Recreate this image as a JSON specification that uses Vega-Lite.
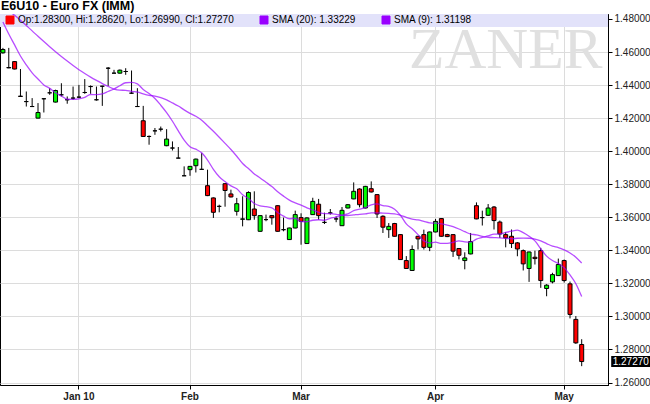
{
"$schema": "https://vega.github.io/schema/vega-lite/v6.json",
"width": 608, "height": 371,
"autosize": {"type": "none"},
"padding": {"left": 0, "top": 14, "right": 42, "bottom": 19},
"background": "#ffffff",
"title": {"text": "E6U10 - Euro FX (IMM)", "anchor": "start", "frame": "group", "font": "Liberation Sans", "fontSize": 12.5, "fontWeight": "bold", "color": "#000", "offset": 1, "dx": 1},
"config": {"view": {"stroke": "#000", "strokeWidth": 1}, "font": "Liberation Sans"},
"data": {"values": [
{"d":"2009-12-14","o":1.4595,"h":1.4625,"l":1.4590,"c":1.4615,"s20":1.4875,"s9":1.4782},
{"d":"2009-12-15","o":1.4506,"h":1.4625,"l":1.4502,"c":1.4504,"s20":1.4850,"s9":1.4709},
{"d":"2009-12-16","o":1.4542,"h":1.4545,"l":1.4495,"c":1.4497,"s20":1.4822,"s9":1.4643},
{"d":"2009-12-17","o":1.4333,"h":1.4497,"l":1.4329,"c":1.4331,"s20":1.4792,"s9":1.4576},
{"d":"2009-12-18","o":1.4300,"h":1.4361,"l":1.4270,"c":1.4300,"s20":1.4760,"s9":1.4522},
{"d":"2009-12-21","o":1.4270,"h":1.4321,"l":1.4267,"c":1.4270,"s20":1.4728,"s9":1.4474},
{"d":"2009-12-22","o":1.4200,"h":1.4291,"l":1.4198,"c":1.4234,"s20":1.4695,"s9":1.4437},
{"d":"2009-12-23","o":1.4317,"h":1.4321,"l":1.4234,"c":1.4317,"s20":1.4663,"s9":1.4401},
{"d":"2009-12-24","o":1.4353,"h":1.4381,"l":1.4341,"c":1.4353,"s20":1.4632,"s9":1.4380},
{"d":"2009-12-28","o":1.4297,"h":1.4372,"l":1.4295,"c":1.4367,"s20":1.4602,"s9":1.4353},
{"d":"2009-12-29","o":1.4341,"h":1.4411,"l":1.4331,"c":1.4341,"s20":1.4573,"s9":1.4334},
{"d":"2009-12-30","o":1.4311,"h":1.4331,"l":1.4287,"c":1.4311,"s20":1.4545,"s9":1.4314},
{"d":"2009-12-31","o":1.4321,"h":1.4391,"l":1.4311,"c":1.4321,"s20":1.4518,"s9":1.4313},
{"d":"2010-01-04","o":1.4327,"h":1.4401,"l":1.4321,"c":1.4327,"s20":1.4493,"s9":1.4316},
{"d":"2010-01-05","o":1.4355,"h":1.4436,"l":1.4347,"c":1.4355,"s20":1.4470,"s9":1.4325},
{"d":"2010-01-06","o":1.4391,"h":1.4398,"l":1.4347,"c":1.4391,"s20":1.4448,"s9":1.4343},
{"d":"2010-01-07","o":1.4311,"h":1.4391,"l":1.4306,"c":1.4311,"s20":1.4428,"s9":1.4342},
{"d":"2010-01-08","o":1.4393,"h":1.4395,"l":1.4274,"c":1.4393,"s20":1.4409,"s9":1.4346},
{"d":"2010-01-11","o":1.4502,"h":1.4509,"l":1.4395,"c":1.4502,"s20":1.4392,"s9":1.4361},
{"d":"2010-01-12","o":1.4472,"h":1.4492,"l":1.4472,"c":1.4472,"s20":1.4376,"s9":1.4376},
{"d":"2010-01-13","o":1.4472,"h":1.4494,"l":1.4470,"c":1.4490,"s20":1.4369,"s9":1.4396},
{"d":"2010-01-14","o":1.4482,"h":1.4502,"l":1.4462,"c":1.4482,"s20":1.4368,"s9":1.4414},
{"d":"2010-01-15","o":1.4351,"h":1.4488,"l":1.4347,"c":1.4351,"s20":1.4361,"s9":1.4416},
{"d":"2010-01-19","o":1.4270,"h":1.4381,"l":1.4270,"c":1.4270,"s20":1.4358,"s9":1.4407},
{"d":"2010-01-20","o":1.4184,"h":1.4274,"l":1.4087,"c":1.4089,"s20":1.4347,"s9":1.4373},
{"d":"2010-01-21","o":1.4089,"h":1.4095,"l":1.4039,"c":1.4089,"s20":1.4338,"s9":1.4349},
{"d":"2010-01-22","o":1.4123,"h":1.4140,"l":1.4099,"c":1.4123,"s20":1.4333,"s9":1.4319},
{"d":"2010-01-25","o":1.4133,"h":1.4149,"l":1.4119,"c":1.4133,"s20":1.4324,"s9":1.4278},
{"d":"2010-01-26","o":1.4033,"h":1.4133,"l":1.4030,"c":1.4073,"s20":1.4310,"s9":1.4233},
{"d":"2010-01-27","o":1.4019,"h":1.4059,"l":1.4004,"c":1.4019,"s20":1.4292,"s9":1.4181},
{"d":"2010-01-28","o":1.3958,"h":1.4025,"l":1.3958,"c":1.3958,"s20":1.4273,"s9":1.4123},
{"d":"2010-01-29","o":1.3851,"h":1.3908,"l":1.3851,"c":1.3851,"s20":1.4250,"s9":1.4067},
{"d":"2010-02-01","o":1.3888,"h":1.3910,"l":1.3851,"c":1.3908,"s20":1.4229,"s9":1.4027},
{"d":"2010-02-02","o":1.3912,"h":1.3955,"l":1.3871,"c":1.3952,"s20":1.4211,"s9":1.4012},
{"d":"2010-02-03","o":1.3890,"h":1.3988,"l":1.3888,"c":1.3890,"s20":1.4187,"s9":1.3990},
{"d":"2010-02-04","o":1.3791,"h":1.3888,"l":1.3728,"c":1.3731,"s20":1.4154,"s9":1.3946},
{"d":"2010-02-05","o":1.3717,"h":1.3720,"l":1.3596,"c":1.3630,"s20":1.4120,"s9":1.3890},
{"d":"2010-02-08","o":1.3666,"h":1.3676,"l":1.3630,"c":1.3666,"s20":1.4084,"s9":1.3845},
{"d":"2010-02-09","o":1.3803,"h":1.3805,"l":1.3664,"c":1.3762,"s20":1.4047,"s9":1.3816},
{"d":"2010-02-10","o":1.3741,"h":1.3767,"l":1.3720,"c":1.3723,"s20":1.4010,"s9":1.3790},
{"d":"2010-02-11","o":1.3636,"h":1.3717,"l":1.3610,"c":1.3682,"s20":1.3969,"s9":1.3772},
{"d":"2010-02-12","o":1.3588,"h":1.3727,"l":1.3545,"c":1.3590,"s20":1.3925,"s9":1.3736},
{"d":"2010-02-16","o":1.3585,"h":1.3757,"l":1.3583,"c":1.3750,"s20":1.3895,"s9":1.3714},
{"d":"2010-02-17","o":1.3650,"h":1.3757,"l":1.3585,"c":1.3610,"s20":1.3862,"s9":1.3683},
{"d":"2010-02-18","o":1.3515,"h":1.3612,"l":1.3513,"c":1.3610,"s20":1.3838,"s9":1.3669},
{"d":"2010-02-19","o":1.3586,"h":1.3616,"l":1.3576,"c":1.3586,"s20":1.3812,"s9":1.3664},
{"d":"2010-02-22","o":1.3610,"h":1.3612,"l":1.3555,"c":1.3597,"s20":1.3786,"s9":1.3657},
{"d":"2010-02-23","o":1.3670,"h":1.3672,"l":1.3513,"c":1.3515,"s20":1.3755,"s9":1.3629},
{"d":"2010-02-24","o":1.3525,"h":1.3598,"l":1.3515,"c":1.3525,"s20":1.3728,"s9":1.3607},
{"d":"2010-02-25","o":1.3465,"h":1.3537,"l":1.3463,"c":1.3535,"s20":1.3704,"s9":1.3591},
{"d":"2010-02-26","o":1.3535,"h":1.3640,"l":1.3533,"c":1.3616,"s20":1.3687,"s9":1.3594},
{"d":"2010-03-01","o":1.3598,"h":1.3624,"l":1.3434,"c":1.3575,"s20":1.3673,"s9":1.3574},
{"d":"2010-03-02","o":1.3441,"h":1.3600,"l":1.3439,"c":1.3596,"s20":1.3657,"s9":1.3573},
{"d":"2010-03-03","o":1.3616,"h":1.3718,"l":1.3614,"c":1.3696,"s20":1.3644,"s9":1.3582},
{"d":"2010-03-04","o":1.3679,"h":1.3711,"l":1.3585,"c":1.3610,"s20":1.3630,"s9":1.3585},
{"d":"2010-03-05","o":1.3569,"h":1.3628,"l":1.3559,"c":1.3569,"s20":1.3622,"s9":1.3582},
{"d":"2010-03-08","o":1.3626,"h":1.3650,"l":1.3616,"c":1.3626,"s20":1.3622,"s9":1.3594},
{"d":"2010-03-09","o":1.3590,"h":1.3606,"l":1.3570,"c":1.3590,"s20":1.3618,"s9":1.3601},
{"d":"2010-03-10","o":1.3549,"h":1.3662,"l":1.3547,"c":1.3642,"s20":1.3612,"s9":1.3613},
{"d":"2010-03-11","o":1.3656,"h":1.3680,"l":1.3654,"c":1.3676,"s20":1.3610,"s9":1.3620},
{"d":"2010-03-12","o":1.3711,"h":1.3811,"l":1.3709,"c":1.3757,"s20":1.3614,"s9":1.3640},
{"d":"2010-03-15","o":1.3771,"h":1.3775,"l":1.3660,"c":1.3676,"s20":1.3618,"s9":1.3649},
{"d":"2010-03-16","o":1.3656,"h":1.3790,"l":1.3654,"c":1.3787,"s20":1.3620,"s9":1.3659},
{"d":"2010-03-17","o":1.3773,"h":1.3817,"l":1.3750,"c":1.3753,"s20":1.3627,"s9":1.3675},
{"d":"2010-03-18","o":1.3737,"h":1.3740,"l":1.3596,"c":1.3620,"s20":1.3627,"s9":1.3681},
{"d":"2010-03-19","o":1.3606,"h":1.3612,"l":1.3505,"c":1.3540,"s20":1.3625,"s9":1.3671},
{"d":"2010-03-22","o":1.3525,"h":1.3565,"l":1.3475,"c":1.3545,"s20":1.3623,"s9":1.3666},
{"d":"2010-03-23","o":1.3562,"h":1.3566,"l":1.3483,"c":1.3485,"s20":1.3621,"s9":1.3649},
{"d":"2010-03-24","o":1.3495,"h":1.3497,"l":1.3342,"c":1.3344,"s20":1.3612,"s9":1.3612},
{"d":"2010-03-25","o":1.3338,"h":1.3365,"l":1.3288,"c":1.3290,"s20":1.3600,"s9":1.3560},
{"d":"2010-03-26","o":1.3278,"h":1.3430,"l":1.3276,"c":1.3405,"s20":1.3589,"s9":1.3530},
{"d":"2010-03-29","o":1.3485,"h":1.3487,"l":1.3405,"c":1.3469,"s20":1.3584,"s9":1.3495},
{"d":"2010-03-30","o":1.3495,"h":1.3525,"l":1.3405,"c":1.3418,"s20":1.3575,"s9":1.3457},
{"d":"2010-03-31","o":1.3418,"h":1.3513,"l":1.3395,"c":1.3511,"s20":1.3566,"s9":1.3445},
{"d":"2010-04-01","o":1.3511,"h":1.3590,"l":1.3509,"c":1.3575,"s20":1.3564,"s9":1.3449},
{"d":"2010-04-02","o":1.3592,"h":1.3595,"l":1.3483,"c":1.3485,"s20":1.3560,"s9":1.3442},
{"d":"2010-04-05","o":1.3495,"h":1.3500,"l":1.3480,"c":1.3483,"s20":1.3553,"s9":1.3442},
{"d":"2010-04-06","o":1.3495,"h":1.3497,"l":1.3360,"c":1.3395,"s20":1.3543,"s9":1.3448},
{"d":"2010-04-07","o":1.3411,"h":1.3413,"l":1.3345,"c":1.3370,"s20":1.3529,"s9":1.3457},
{"d":"2010-04-08","o":1.3338,"h":1.3388,"l":1.3285,"c":1.3354,"s20":1.3513,"s9":1.3451},
{"d":"2010-04-09","o":1.3378,"h":1.3505,"l":1.3376,"c":1.3453,"s20":1.3498,"s9":1.3449},
{"d":"2010-04-12","o":1.3670,"h":1.3690,"l":1.3588,"c":1.3590,"s20":1.3494,"s9":1.3468},
{"d":"2010-04-13","o":1.3598,"h":1.3640,"l":1.3550,"c":1.3598,"s20":1.3484,"s9":1.3478},
{"d":"2010-04-14","o":1.3612,"h":1.3680,"l":1.3608,"c":1.3656,"s20":1.3479,"s9":1.3487},
{"d":"2010-04-15","o":1.3662,"h":1.3668,"l":1.3526,"c":1.3580,"s20":1.3477,"s9":1.3498},
{"d":"2010-04-16","o":1.3571,"h":1.3580,"l":1.3475,"c":1.3499,"s20":1.3475,"s9":1.3499},
{"d":"2010-04-19","o":1.3495,"h":1.3510,"l":1.3418,"c":1.3475,"s20":1.3472,"s9":1.3508},
{"d":"2010-04-20","o":1.3485,"h":1.3526,"l":1.3414,"c":1.3441,"s20":1.3470,"s9":1.3516},
{"d":"2010-04-21","o":1.3445,"h":1.3450,"l":1.3364,"c":1.3408,"s20":1.3473,"s9":1.3522},
{"d":"2010-04-22","o":1.3398,"h":1.3405,"l":1.3278,"c":1.3318,"s20":1.3474,"s9":1.3507},
{"d":"2010-04-23","o":1.3290,"h":1.3392,"l":1.3209,"c":1.3390,"s20":1.3473,"s9":1.3485},
{"d":"2010-04-26","o":1.3358,"h":1.3398,"l":1.3314,"c":1.3350,"s20":1.3468,"s9":1.3457},
{"d":"2010-04-27","o":1.3398,"h":1.3415,"l":1.3173,"c":1.3217,"s20":1.3457,"s9":1.3409},
{"d":"2010-04-28","o":1.3169,"h":1.3195,"l":1.3122,"c":1.3189,"s20":1.3441,"s9":1.3365},
{"d":"2010-04-29","o":1.3209,"h":1.3264,"l":1.3200,"c":1.3253,"s20":1.3425,"s9":1.3338},
{"d":"2010-04-30","o":1.3247,"h":1.3350,"l":1.3245,"c":1.3314,"s20":1.3417,"s9":1.3320},
{"d":"2010-05-03","o":1.3338,"h":1.3344,"l":1.3205,"c":1.3217,"s20":1.3403,"s9":1.3295},
{"d":"2010-05-04","o":1.3197,"h":1.3211,"l":1.2988,"c":1.3012,"s20":1.3384,"s9":1.3251},
{"d":"2010-05-05","o":1.2982,"h":1.3002,"l":1.2834,"c":1.2840,"s20":1.3358,"s9":1.3198},
{"d":"2010-05-06","o":1.2830,"h":1.2862,"l":1.2699,"c":1.2727,"s20":1.33229,"s9":1.31198}
]},
"layer": [
{"data": {"values": [{"t": "ZANER"}]},
 "mark": {"type": "text", "font": "Liberation Serif", "fontSize": 58, "fontWeight": "normal", "fill": "#e0e0e0", "align": "center", "baseline": "alphabetic"},
 "encoding": {"x": {"datum": "2010-04-19", "type": "ordinal", "title": null}, "y": {"datum": 1.4503, "type": "quantitative", "title": null}, "text": {"field": "t"}}},
{"data": {"values": [{"t": "band"}]},
 "mark": {"type": "rect", "fill": "#e2e2fa"},
 "encoding": {"y": {"datum": 1.483, "type": "quantitative", "title": null}, "y2": {"datum": 1.47513}}},
{"mark": {"type": "rule", "stroke": "#000", "strokeWidth": 1},
 "encoding": {
  "x": {"field": "d", "type": "ordinal", "title": null,
   "scale": {"type": "band", "paddingInner": 0, "paddingOuter": 0, "domain": ["2009-12-14","2009-12-15","2009-12-16","2009-12-17","2009-12-18","2009-12-21","2009-12-22","2009-12-23","2009-12-24","2009-12-28","2009-12-29","2009-12-30","2009-12-31","2010-01-04","2010-01-05","2010-01-06","2010-01-07","2010-01-08","2010-01-11","2010-01-12","2010-01-13","2010-01-14","2010-01-15","2010-01-19","2010-01-20","2010-01-21","2010-01-22","2010-01-25","2010-01-26","2010-01-27","2010-01-28","2010-01-29","2010-02-01","2010-02-02","2010-02-03","2010-02-04","2010-02-05","2010-02-08","2010-02-09","2010-02-10","2010-02-11","2010-02-12","2010-02-16","2010-02-17","2010-02-18","2010-02-19","2010-02-22","2010-02-23","2010-02-24","2010-02-25","2010-02-26","2010-03-01","2010-03-02","2010-03-03","2010-03-04","2010-03-05","2010-03-08","2010-03-09","2010-03-10","2010-03-11","2010-03-12","2010-03-15","2010-03-16","2010-03-17","2010-03-18","2010-03-19","2010-03-22","2010-03-23","2010-03-24","2010-03-25","2010-03-26","2010-03-29","2010-03-30","2010-03-31","2010-04-01","2010-04-02","2010-04-05","2010-04-06","2010-04-07","2010-04-08","2010-04-09","2010-04-12","2010-04-13","2010-04-14","2010-04-15","2010-04-16","2010-04-19","2010-04-20","2010-04-21","2010-04-22","2010-04-23","2010-04-26","2010-04-27","2010-04-28","2010-04-29","2010-04-30","2010-05-03","2010-05-04","2010-05-05","2010-05-06","2010-05-07","2010-05-10","2010-05-11","2010-05-12"]},
   "axis": {"values": ["2010-01-04","2010-02-01","2010-03-01","2010-04-01","2010-05-03"],
    "labelExpr": "datum.value == '2010-01-04' ? 'Jan 10' : datum.value == '2010-02-01' ? 'Feb' : datum.value == '2010-03-01' ? 'Mar' : datum.value == '2010-04-01' ? 'Apr' : 'May'",
    "bandPosition": 0.5, "grid": true, "gridColor": "#dcdcdc", "gridWidth": 1, "domainColor": "#000", "tickColor": "#000", "tickSize": 4, "labelAngle": 0, "labelAlign": "center", "labelBaseline": "top", "labelFont": "Liberation Sans", "labelFontWeight": "bold", "labelFontSize": 10, "labelColor": "#222", "labelPadding": 2}},
  "y": {"field": "l", "type": "quantitative", "title": null,
   "scale": {"domain": [1.2585, 1.483], "zero": false, "nice": false},
   "axis": {"orient": "right", "values": [1.26,1.28,1.30,1.32,1.34,1.36,1.38,1.40,1.42,1.44,1.46,1.48], "tickCount": 30, "format": ".5f", "labelOverlap": false, "labelFlush": false, "labelBound": false, "grid": true, "gridColor": "#dcdcdc", "gridWidth": 1, "domainColor": "#000", "tickColor": "#000", "tickSize": 4, "labelPadding": 2, "labelFont": "Liberation Sans", "labelFontSize": 10, "labelColor": "#222"}},
  "y2": {"field": "h"}}},
{"mark": {"type": "bar", "size": 4, "stroke": "#000", "strokeWidth": 1},
 "encoding": {
  "x": {"field": "d", "type": "ordinal", "title": null},
  "y": {"field": "o", "type": "quantitative", "title": null},
  "y2": {"field": "c"},
  "fill": {"condition": {"test": "datum.c >= datum.o", "value": "#00ff00"}, "value": "#ff0000"}}},
{"transform": [{"fold": ["s20", "s9"], "as": ["key", "value"]}],
 "mark": {"type": "line", "strokeWidth": 1.3, "strokeOpacity": 0.7, "clip": true, "interpolate": "monotone"},
 "encoding": {
  "x": {"field": "d", "type": "ordinal", "title": null},
  "y": {"field": "value", "type": "quantitative", "title": null},
  "stroke": {"field": "key", "type": "nominal",
   "scale": {"domain": ["ohlc", "s20", "s9"], "range": ["#ff0000", "#9900ff", "#9900ff"]},
   "legend": {"title": null, "orient": "none", "legendX": 5, "legendY": 1, "direction": "horizontal", "symbolType": "square", "symbolSize": 64, "labelFont": "Liberation Sans", "labelFontSize": 10, "labelColor": "#000", "labelOffset": 3, "labelLimit": 300, "columnPadding": 24, "padding": 0,
    "labelExpr": "datum.value == 'ohlc' ? 'Op:1.28300, Hi:1.28620, Lo:1.26990, Cl:1.27270' : datum.value == 's20' ? 'SMA (20): 1.33229' : 'SMA (9): 1.31198'",
    "encode": {"symbols": {"update": {"fill": {"scale": "stroke", "field": "value"}, "stroke": {"value": "#000"}, "strokeWidth": {"value": 1}, "opacity": {"value": 1}, "fillOpacity": {"value": 1}, "strokeOpacity": {"value": 1}}}}}}}},
{"data": {"values": [{"d": "2010-05-06", "p": 1.2727, "t": "1.27270"}]},
 "mark": {"type": "point", "shape": "M-1,-0.28H1V0.28H-1Z", "filled": true, "fill": "#000", "size": 1521, "xOffset": 49, "opacity": 1, "strokeWidth": 0},
 "encoding": {"x": {"field": "d", "type": "ordinal", "title": null}, "y": {"field": "p", "type": "quantitative", "title": null}}},
{"data": {"values": [{"d": "2010-05-06", "p": 1.2727, "t": "1.27270"}]},
 "mark": {"type": "text", "align": "left", "baseline": "middle", "dx": 31, "fill": "#ffffff", "font": "Liberation Sans", "fontSize": 10},
 "encoding": {"x": {"field": "d", "type": "ordinal", "title": null}, "y": {"field": "p", "type": "quantitative", "title": null}, "text": {"field": "t"}}}
]
}
